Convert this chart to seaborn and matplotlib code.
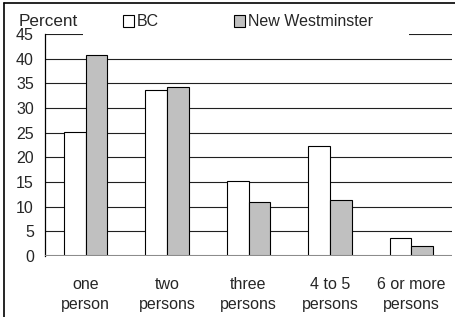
import numpy as np
import pandas as pd
import matplotlib
matplotlib.use("Agg")
import matplotlib.pyplot as plt
from matplotlib.patches import Rectangle
from matplotlib.lines import Line2D
import seaborn as sns

# ---------------- data ----------------
categories = ["one\nperson", "two\npersons", "three\npersons", "4 to 5\npersons", "6 or more\npersons"]
bc_values = [25.2, 33.6, 15.2, 22.2, 3.7]
nw_values = [40.7, 34.2, 11.0, 11.4, 2.0]
series_names = ["BC", "New Westminster"]
y_ticks = [0, 5, 10, 15, 20, 25, 30, 35, 40, 45]

df = pd.DataFrame({
    "size": categories * 2,
    "pct": bc_values + nw_values,
    "area": [series_names[0]] * len(categories) + [series_names[1]] * len(categories),
})

# ---------------- plot ----------------
FS = 11.5
sns.set_style("white")
plt.rcParams["font.family"] = ["Liberation Sans", "DejaVu Sans"]
plt.rcParams["font.size"] = FS

fig = plt.figure(figsize=(4.56, 3.17), dpi=100)
ax = fig.add_axes([45 / 456, 1 - 256 / 317, (452 - 45) / 456, (256 - 34) / 317])

sns.barplot(
    data=df, x="size", y="pct", hue="area",
    palette=["white", "#c0c0c0"],
    edgecolor="black", linewidth=0.8,
    width=0.535, gap=0, ax=ax, zorder=3,
)

ax.set_xlim(-0.5, len(categories) - 0.5)
ax.set_ylim(0, 45)
ax.set_yticks(y_ticks)
ax.set_xlabel("")
ax.set_ylabel("")

# gridlines
ax.yaxis.grid(True, color="#202020", linewidth=0.8, zorder=0)
ax.set_axisbelow(True)
ax.axhline(0, color="#8c8c8c", linewidth=1.5, zorder=4)

for side in ["top", "right", "bottom"]:
    ax.spines[side].set_visible(False)
ax.spines["left"].set_color("black")
ax.spines["left"].set_linewidth(0.9)
ax.tick_params(axis="y", length=0, pad=8, labelsize=FS)
ax.tick_params(axis="x", length=0, pad=15, labelsize=FS)
for lab in ax.get_xticklabels():
    lab.set_linespacing(1.45)

# legend with white background covering the top gridline
handles, labels = ax.get_legend_handles_labels()
if ax.get_legend() is not None:
    ax.get_legend().remove()

fig.patches.append(Rectangle((83 / 456, 1 - 40 / 317), (409 - 83) / 456, 32 / 317,
                             transform=fig.transFigure, facecolor="white",
                             edgecolor="none", zorder=3))
fig.legend(handles, labels, ncol=2, loc="center", bbox_to_anchor=(248 / 456, 1 - 22 / 317),
           frameon=False, handlelength=0.7, handleheight=0.7, handletextpad=0.2,
           columnspacing=4.7, fontsize=FS)

fig.text(19 / 456, 1 - 22 / 317, "Percent", ha="left", va="center", fontsize=12.3)

# outer border (left and top)
fig.lines.append(Line2D([4 / 456, 4 / 456], [0, 1 - 2.5 / 317], transform=fig.transFigure,
                        color="black", linewidth=1.2))
fig.lines.append(Line2D([4 / 456, 1], [1 - 2.5 / 317, 1 - 2.5 / 317], transform=fig.transFigure,
                        color="black", linewidth=1.2))

fig.savefig("out.png", dpi=100)
